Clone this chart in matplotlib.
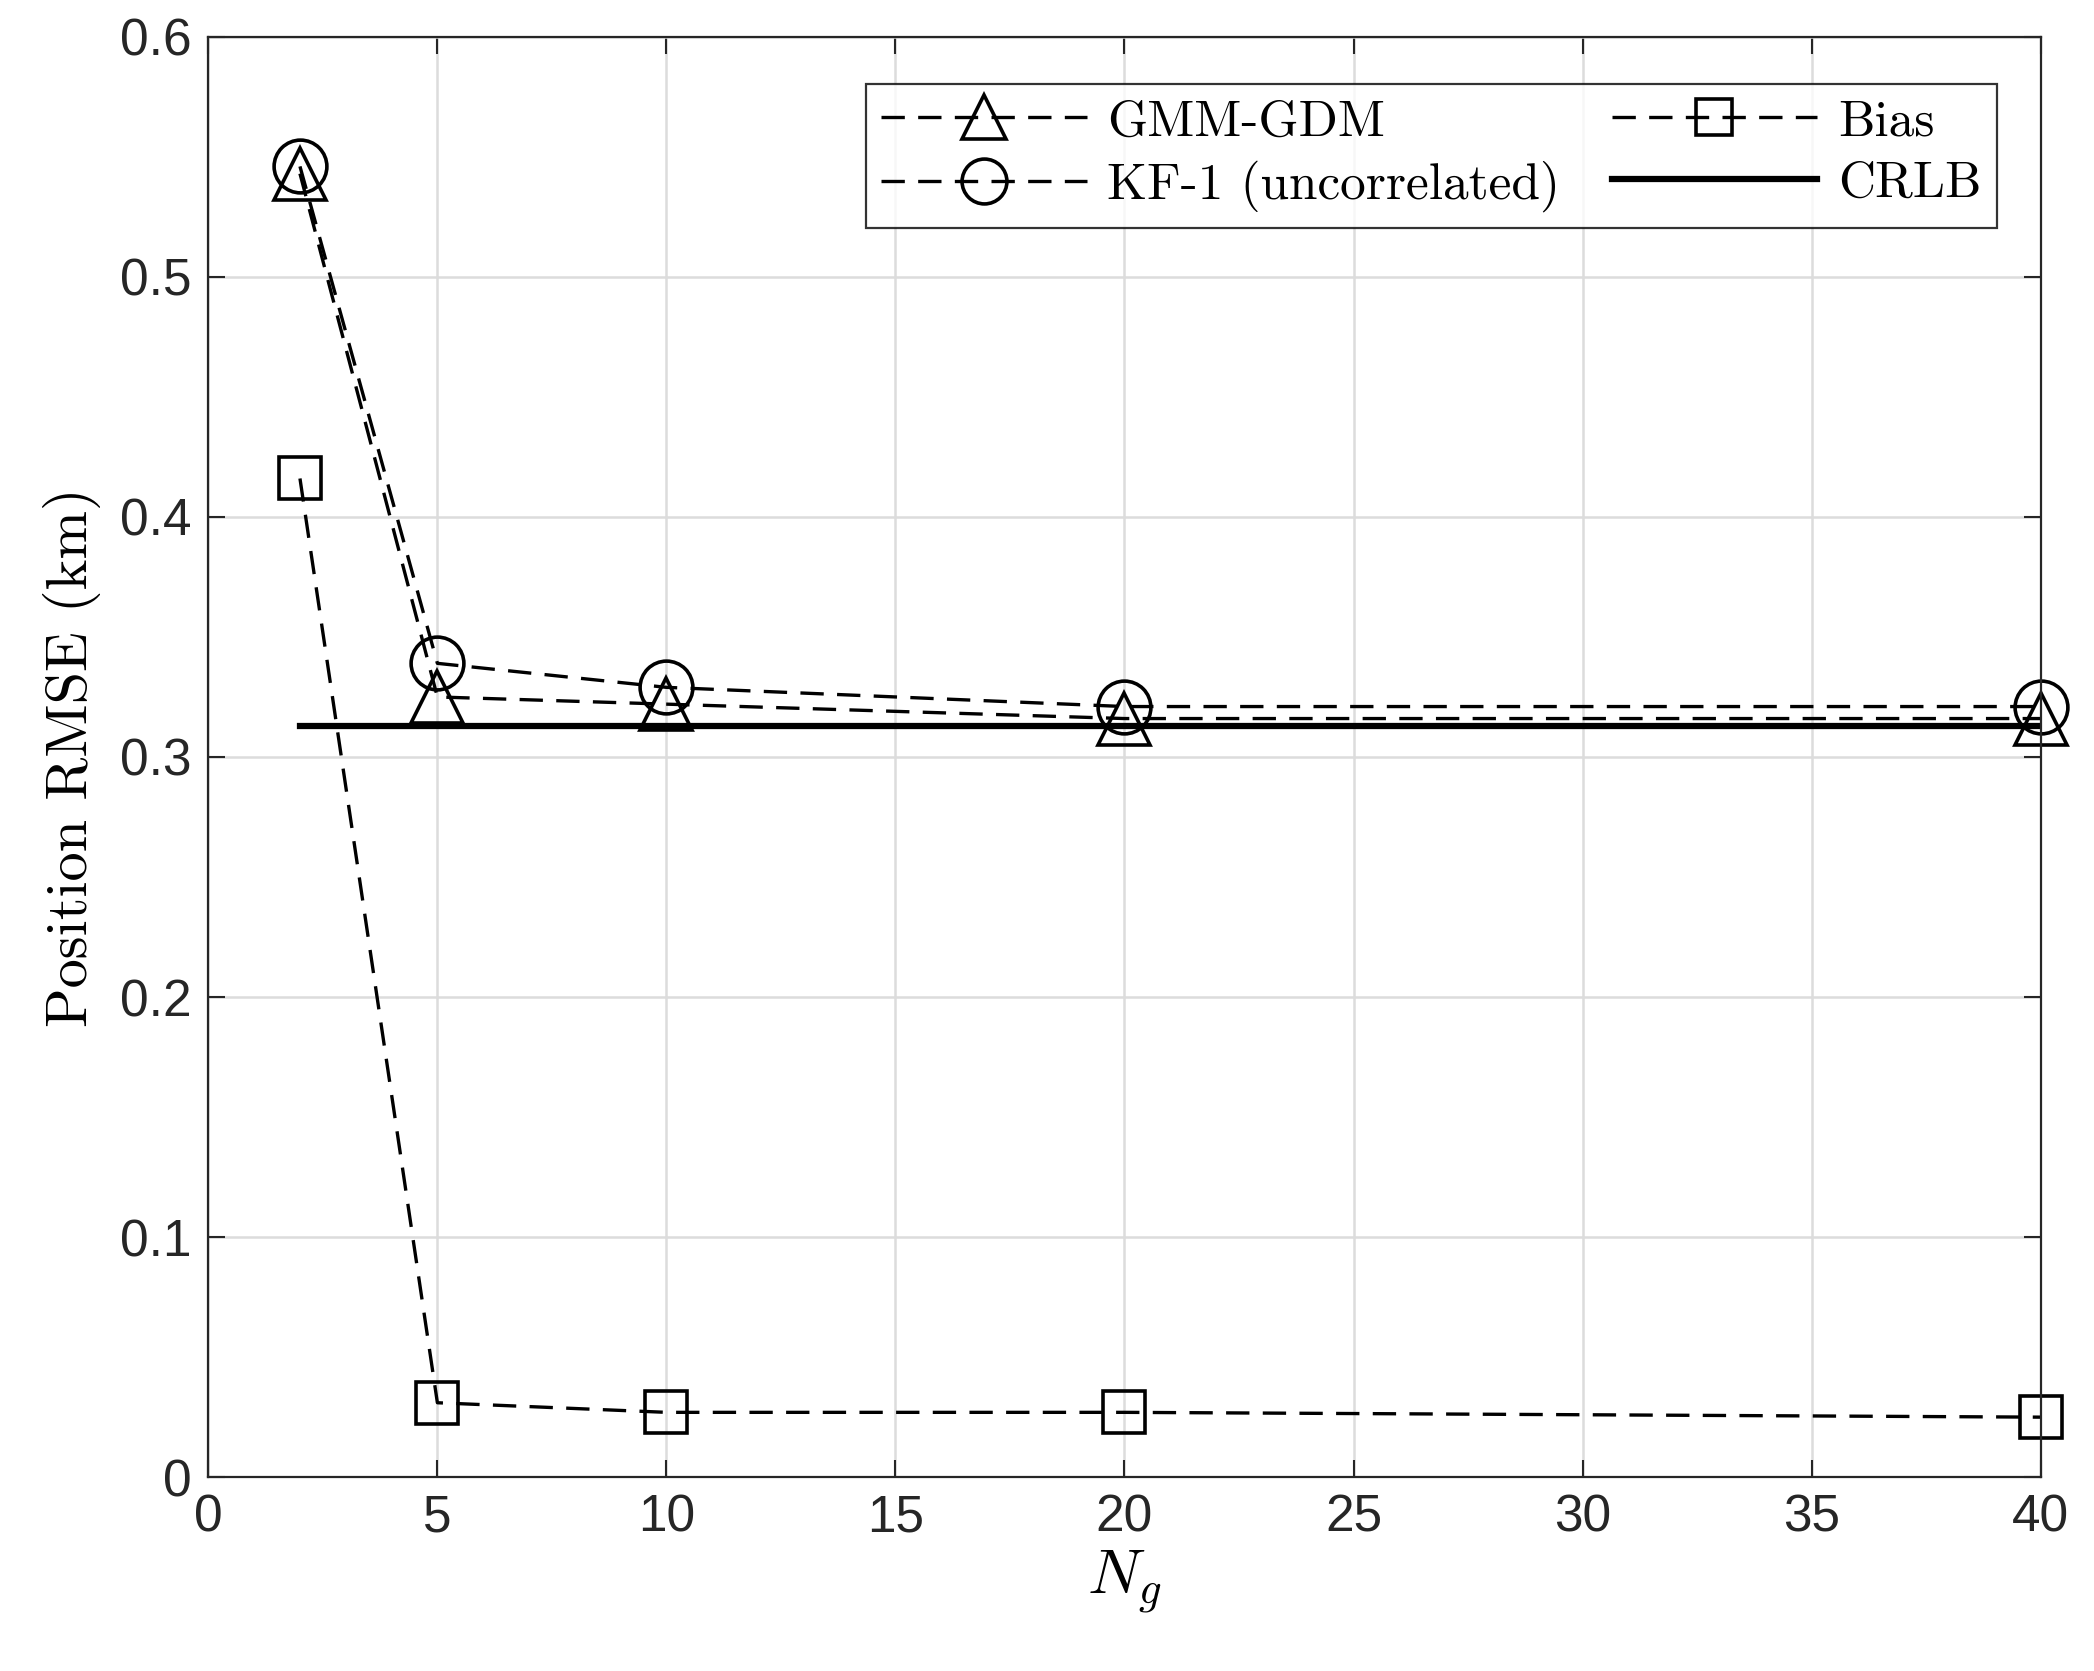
import matplotlib
matplotlib.use("Agg")
import matplotlib.pyplot as plt

x = [2, 5, 10, 20, 40]
gmm = [0.543, 0.325, 0.322, 0.316, 0.316]
kf1 = [0.546, 0.339, 0.329, 0.321, 0.321]
bias = [0.416, 0.031, 0.027, 0.027, 0.025]
crlb = [0.313, 0.313, 0.313, 0.313, 0.313]

plt.rcParams['mathtext.fontset'] = 'cm'
plt.rcParams['font.family'] = ['Liberation Sans', 'DejaVu Sans']
fig = plt.figure(figsize=(20.94, 16.71), dpi=100)
ax = fig.add_axes([0.0995, 0.116, 0.875, 0.862])

kw = dict(color='k', lw=2.4, ls=(0, (7, 4)), mfc='none', mec='k', mew=2.6, ms=38, clip_on=False)
ax.plot(x, gmm, marker='^', label='GMM-GDM', **kw)
ax.plot(x, kf1, marker='o', label='KF-1 (uncorrelated)', **kw)
ax.plot(x, bias, marker='s', label='Bias', **dict(kw, ms=30))
ax.plot(x, crlb, color='k', lw=4.5, label='CRLB')

ax.set_xlim(0, 40)
ax.set_ylim(0, 0.6)
ax.set_xticks(range(0, 41, 5))
ax.set_yticks([0, 0.1, 0.2, 0.3, 0.4, 0.5, 0.6])
ax.set_yticklabels(['0', '0.1', '0.2', '0.3', '0.4', '0.5', '0.6'])
ax.grid(True, color='#dcdcdc', lw=1.8)
ax.set_axisbelow(True)
ax.tick_params(direction='in', length=12, width=1.5, top=True, right=True,
               labelsize=37, colors='#262626', pad=12)
for s in ax.spines.values():
    s.set_linewidth(1.6)
    s.set_color('#262626')
ax.set_xlabel(r'$N_g$', fontsize=46, labelpad=4)
ax.set_ylabel('Position RMSE (km)', fontsize=42, family='cmr10', labelpad=14)
leg = ax.legend(ncol=2, loc='upper right', prop={'family': 'cmr10', 'size': 37},
                fancybox=False, edgecolor='k', handlelength=4, markerscale=0.85,
                columnspacing=1.0, handletextpad=0.4, borderpad=0.3, labelspacing=0.3,
                bbox_to_anchor=(0.99, 0.985))
leg.get_frame().set_linewidth(1.6)
fig.savefig('out.png', dpi=100, facecolor='white')
